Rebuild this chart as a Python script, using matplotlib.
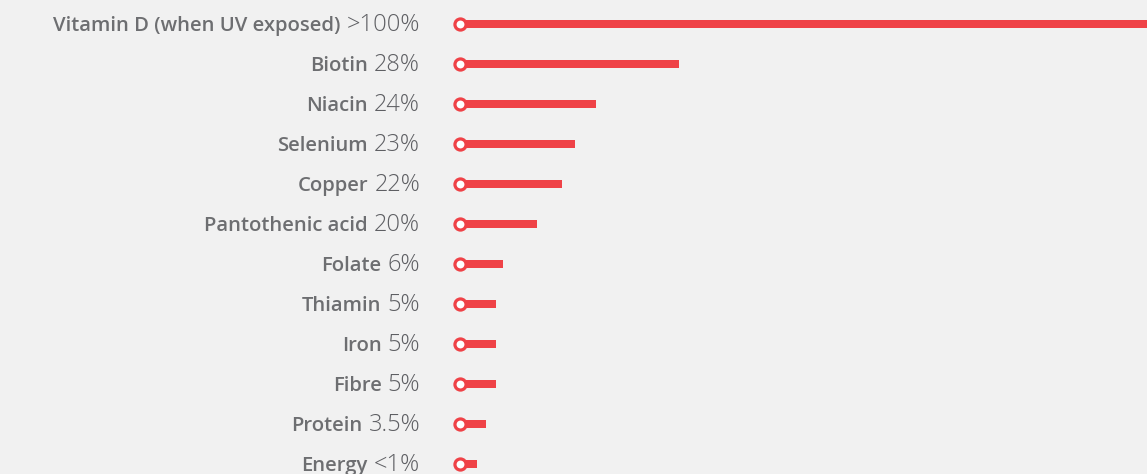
import matplotlib
matplotlib.use("Agg")
import matplotlib.pyplot as plt
from matplotlib.font_manager import FontProperties

# nutrient names, printed percentages and drawn bar lengths (px-like units)
nutrients = ["Vitamin D (when UV exposed)", "Biotin", "Niacin", "Selenium",
             "Copper", "Pantothenic acid", "Folate", "Thiamin", "Iron",
             "Fibre", "Protein", "Energy"]
pct_labels = [">100%", "28%", "24%", "23%", "22%", "20%", "6%", "5%", "5%",
              "5%", "3.5%", "<1%"]
bar_lengths = [720, 219, 136, 115, 102, 77, 43, 36, 36, 36, 26, 17]

RED = "#ef4247"
GREY = "#6d6e71"
BG = "#f1f1f1"

nameFont = FontProperties(family=["Open Sans", "DejaVu Sans"], weight="semibold", size=14.6)
pctFont = FontProperties(family=["Open Sans", "DejaVu Sans"], weight="light", size=17)

fig = plt.figure(figsize=(11.47, 4.74), dpi=100)
fig.patch.set_facecolor(BG)
ax = fig.add_axes([0, 0, 1, 1])
ax.set_facecolor(BG)
ax.set_axis_off()
ax.set_xlim(-460, 687)
ax.set_ylim(11.25, -0.6)

ys = list(range(len(nutrients)))
ax.barh(ys, bar_lengths, height=0.18, left=0, color=RED, zorder=2)
ax.plot([0] * len(ys), ys, 'o', markersize=8, markeredgewidth=2.3,
        markerfacecolor="white", markeredgecolor=RED, zorder=3, clip_on=False)

# baseline sits a few px under the bar centre
fig.canvas.draw()
renderer = fig.canvas.get_renderer()
inv = ax.transData.inverted()
for y, name, pct in zip(ys, nutrients, pct_labels):
    t = ax.text(-40, y + 0.17, pct, ha="right", va="baseline", color="#5e5f63",
                fontproperties=pctFont)
    bb = t.get_window_extent(renderer)
    x_left = inv.transform((bb.x0 - 6, 0))[0]
    ax.text(x_left, y + 0.17, name, ha="right", va="baseline", color=GREY,
            fontproperties=nameFont)

fig.savefig("out.png", dpi=100, facecolor=BG)
